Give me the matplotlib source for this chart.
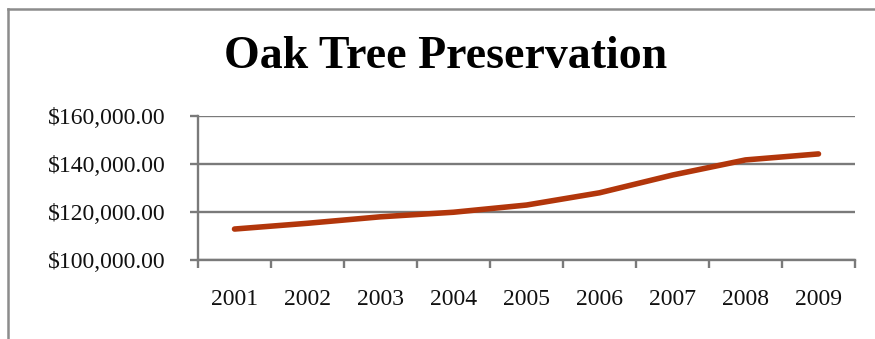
import matplotlib
matplotlib.use("Agg")
import matplotlib.pyplot as plt
from matplotlib.ticker import FuncFormatter, FixedLocator
from matplotlib.lines import Line2D
import numpy as np

years = ["2001", "2002", "2003", "2004", "2005", "2006", "2007", "2008", "2009"]
values = [112900, 115300, 118000, 119900, 122900, 128000, 135400, 141700, 144200]
title = "Oak Tree Preservation"

fig = plt.figure(figsize=(8.75, 3.39), dpi=100)
fig.patch.set_facecolor("white")
ax = fig.add_axes([198/875, 1-260/339, (855-198)/875, (260-116)/339])

x = np.arange(len(years))
ax.plot(x, values, color="#B2360B", linewidth=4.0, solid_capstyle="round", solid_joinstyle="round", zorder=3)

ax.set_ylim(100000, 160000)
ax.set_xlim(-0.5, len(years) - 0.5)
ax.set_yticks([100000, 120000, 140000, 160000])
ax.yaxis.set_major_formatter(FuncFormatter(lambda v, p: "${:,.2f}".format(v)))
ax.set_xticks(x)
ax.set_xticklabels(years)
ax.xaxis.set_minor_locator(FixedLocator(np.arange(-0.5, len(years), 1.0)))

grid_c = "#7a7a7a"
ax.grid(axis="y", color=grid_c, linewidth=1.7, zorder=1)
for s in ["top", "right"]:
    ax.spines[s].set_visible(False)
for s in ["left", "bottom"]:
    ax.spines[s].set_color(grid_c)
    ax.spines[s].set_linewidth(1.7)

font = "Liberation Serif"
ax.tick_params(axis="x", which="major", length=0, pad=21, labelsize=17)
ax.tick_params(axis="x", which="minor", length=6, width=1.7, color=grid_c, direction="out")
ax.tick_params(axis="y", which="major", length=6, width=1.7, color=grid_c, pad=17, labelsize=17)
for lab in ax.get_xticklabels() + ax.get_yticklabels():
    lab.set_fontfamily(font)
    lab.set_color("#111111")

fig.text(446/875, 1-57/339, title, ha="center", va="center", fontsize=33,
         fontweight="bold", fontfamily=font, color="black")

# chart border (partially visible)
bc = "#8c8c8c"
fig.add_artist(Line2D([8/875, 8/875], [0, 1-9/339], transform=fig.transFigure, color=bc, linewidth=1.8))
fig.add_artist(Line2D([8/875, 1], [1-9/339, 1-9/339], transform=fig.transFigure, color=bc, linewidth=1.8))

fig.savefig("out.png", dpi=100, facecolor="white")
